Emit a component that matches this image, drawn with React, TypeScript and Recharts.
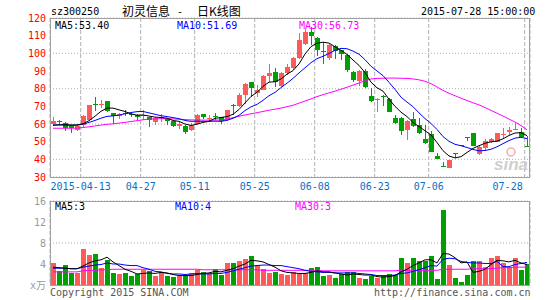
import React from 'react';
import { ComposedChart, Bar, Line, XAxis, YAxis, CartesianGrid } from 'recharts';

const MONO = '"DejaVu Sans Mono", "Liberation Mono", "Noto Sans CJK SC", monospace';
const CJK = '"Noto Sans CJK SC", sans-serif';
const RED = '#ff5a5a';
const GREEN = '#00a000';

const dates = [
  '2015-04-03', '2015-04-07', '2015-04-08', '2015-04-09', '2015-04-10', '2015-04-13', '2015-04-14', '2015-04-15', '2015-04-16', '2015-04-17',
  '2015-04-20', '2015-04-21', '2015-04-22', '2015-04-23', '2015-04-24', '2015-04-27', '2015-04-28', '2015-04-29', '2015-04-30', '2015-05-04',
  '2015-05-05', '2015-05-06', '2015-05-07', '2015-05-08', '2015-05-11', '2015-05-12', '2015-05-13', '2015-05-14', '2015-05-15', '2015-05-18',
  '2015-05-19', '2015-05-20', '2015-05-21', '2015-05-22', '2015-05-25', '2015-05-26', '2015-05-27', '2015-05-28', '2015-05-29', '2015-06-01',
  '2015-06-02', '2015-06-03', '2015-06-04', '2015-06-05', '2015-06-08', '2015-06-09', '2015-06-10', '2015-06-11', '2015-06-12', '2015-06-15',
  '2015-06-16', '2015-06-17', '2015-06-18', '2015-06-19', '2015-06-23', '2015-06-24', '2015-06-25', '2015-06-26', '2015-06-29', '2015-06-30',
  '2015-07-01', '2015-07-02', '2015-07-03', '2015-07-06', '2015-07-07', '2015-07-08', '2015-07-09', '2015-07-10', '2015-07-13', '2015-07-14',
  '2015-07-15', '2015-07-16', '2015-07-17', '2015-07-20', '2015-07-21', '2015-07-22', '2015-07-23', '2015-07-24', '2015-07-27', '2015-07-28',
];

const tickDates = ['2015-04-13', '2015-04-27', '2015-05-11', '2015-05-25', '2015-06-08', '2015-06-23', '2015-07-06', '2015-07-28'];

const open = [
  59.8, 61.6, 60.8, 58.6, 56.8, 59.5, 62.2, 71.4, 71.2, 73.0,
  66.2, 64.3, 66.2, 65.8, 65.2, 64.9, 63.9, 61.2, 63.3, 63.0,
  61.7, 59.1, 59.1, 56.8, 60.0, 65.5, 62.8, 64.3, 63.8, 62.3,
  70.6, 70.2, 76.4, 83.8, 77.4, 79.2, 87.2, 89.6, 81.5, 88.7,
  91.5, 97.5, 105.5, 112.0, 108.5, 101.3, 97.4, 104.4, 101.7, 99.3,
  89.6, 84.2, 89.8, 75.6, 73.9, 75.8, 74.3, 63.3, 63.6, 56.5,
  62.7, 59.5, 51.5, 54.2, 42.0, 36.4, 35.2, 43.5, 47.9, 52.6,
  54.7, 43.3, 46.2, 50.0, 50.0, 54.0, 55.5, 57.1, 55.7, 47.3,
];
const close = [
  61.9, 61.4, 58.0, 57.6, 58.8, 64.6, 70.6, 70.5, 71.6, 67.5,
  64.8, 65.6, 65.9, 64.9, 63.9, 65.3, 62.4, 63.2, 63.7, 61.8,
  58.9, 60.1, 55.7, 59.6, 65.1, 64.0, 63.2, 64.1, 61.9, 67.9,
  70.3, 76.6, 82.8, 80.6, 79.2, 87.2, 88.7, 83.6, 89.0, 92.3,
  97.5, 107.4, 112.0, 109.7, 101.7, 100.9, 104.5, 101.5, 99.7, 90.3,
  84.8, 89.8, 80.7, 72.8, 74.3, 75.4, 66.8, 60.5, 56.3, 61.8,
  59.1, 54.7, 49.1, 44.4, 40.3, 36.2, 39.6, 43.3, 47.9, 52.5,
  47.6, 47.2, 50.4, 51.7, 54.7, 54.2, 56.6, 57.4, 52.5, 47.25,
];
const high = [
  64.2, 62.3, 61.0, 59.0, 59.5, 65.2, 70.8, 75.3, 73.8, 73.2,
  66.5, 66.3, 68.0, 66.3, 65.6, 67.9, 64.0, 64.0, 65.6, 63.3,
  62.0, 61.1, 59.5, 60.6, 65.7, 65.8, 65.3, 66.2, 64.0, 68.1,
  71.1, 77.4, 83.4, 84.0, 82.1, 87.5, 94.0, 91.5, 89.3, 93.8,
  98.1, 111.3, 113.5, 115.0, 109.0, 106.5, 105.5, 104.8, 102.0, 99.6,
  90.0, 90.5, 91.1, 80.5, 74.5, 76.5, 74.6, 65.2, 64.0, 62.3,
  67.0, 63.3, 59.5, 56.0, 43.4, 38.6, 39.8, 43.6, 47.9, 52.6,
  54.8, 47.6, 51.5, 52.2, 55.0, 57.6, 58.5, 61.3, 57.6, 53.0,
];
const low = [
  59.3, 59.6, 56.0, 54.8, 56.0, 58.5, 61.8, 67.6, 69.0, 67.0,
  60.3, 62.9, 64.6, 64.3, 62.3, 62.5, 58.6, 59.2, 61.2, 59.3,
  57.9, 57.3, 54.5, 56.3, 59.4, 63.0, 61.5, 62.3, 59.8, 61.7,
  64.7, 69.3, 71.3, 75.3, 75.3, 79.0, 84.0, 81.0, 81.0, 87.5,
  90.5, 96.8, 104.5, 104.7, 98.5, 93.8, 96.3, 96.6, 96.4, 89.6,
  84.0, 81.3, 80.3, 72.3, 66.5, 70.1, 66.5, 60.3, 53.8, 51.0,
  58.5, 54.5, 48.8, 44.0, 40.0, 36.1, 35.0, 40.9, 47.9, 50.2,
  47.3, 42.5, 45.5, 49.6, 49.8, 51.9, 53.8, 56.6, 51.9, 47.25,
];

const ma5 = [
  59.3, 59.5, 59.6, 59.5, 59.5, 60.1, 61.9, 64.4, 67.2, 69.0,
  69.0, 68.0, 67.1, 65.7, 65.0, 65.1, 64.5, 63.9, 63.7, 63.3,
  62.0, 61.5, 60.0, 59.2, 59.9, 60.9, 61.5, 63.2, 63.7, 64.2,
  65.5, 68.2, 71.9, 75.6, 77.9, 81.3, 83.7, 83.9, 85.5, 88.2,
  90.2, 94.0, 99.6, 103.8, 105.7, 106.3, 105.8, 103.7, 101.7, 99.4,
  96.2, 93.2, 89.1, 83.7, 80.5, 78.6, 74.0, 70.0, 66.7, 64.2,
  60.9, 58.5, 56.2, 53.8, 49.5, 44.9, 41.9, 40.8, 41.5, 43.9,
  46.2, 47.7, 49.1, 49.9, 50.3, 51.6, 53.5, 54.9, 55.1, 53.4,
];
const ma10 = [
  59.4, 59.5, 59.4, 59.2, 59.3, 59.9, 60.9, 62.0, 63.3, 64.3,
  64.6, 65.0, 65.8, 66.5, 67.0, 67.1, 66.3, 65.5, 64.7, 64.2,
  63.6, 63.0, 62.0, 61.5, 61.6, 61.5, 61.5, 61.6, 61.5, 62.1,
  63.2, 64.9, 67.6, 69.7, 71.1, 73.4, 76.0, 77.9, 80.6, 83.1,
  85.8, 88.9, 91.8, 94.7, 97.0, 98.3, 99.9, 101.7, 102.8, 102.6,
  101.3, 99.5, 96.4, 92.7, 90.0, 87.4, 83.6, 79.6, 75.2, 72.4,
  69.8, 66.3, 63.1, 60.3, 56.9, 52.9, 50.2, 48.5, 47.7, 46.7,
  45.6, 44.8, 45.0, 45.7, 47.1, 48.9, 50.6, 52.0, 52.5, 51.69,
];
const ma30 = [
  57.6, 57.6, 57.6, 57.6, 57.7, 58.0, 58.4, 58.9, 59.4, 59.8,
  60.1, 60.5, 60.9, 61.4, 61.9, 62.4, 62.7, 62.9, 63.0, 63.0,
  62.9, 62.7, 62.5, 62.3, 62.3, 62.2, 62.2, 62.2, 62.3, 62.8,
  63.6, 64.4, 65.1, 65.8, 66.4, 67.1, 67.8, 68.4, 69.0, 69.8,
  70.6, 71.8, 73.0, 74.2, 75.5, 76.6, 77.6, 78.6, 79.7, 80.8,
  82.0, 83.2, 84.5, 85.5, 85.8, 85.9, 86.0, 86.0, 85.9, 85.8,
  85.5, 85.0, 84.2, 82.8, 81.0, 79.0, 77.4, 76.0, 74.6, 73.3,
  72.0, 70.8, 69.3, 67.7, 66.1, 64.5, 62.8, 61.1, 59.1, 56.73,
];

// volume, 万手
const vol = [
  4.2, 2.7, 3.9, 2.3, 2.3, 6.9, 5.7, 5.9, 3.3, 4.8,
  2.3, 2.1, 2.3, 1.7, 2.1, 2.9, 2.7, 1.7, 2.5, 1.7,
  1.5, 1.7, 1.7, 2.3, 2.9, 2.5, 2.3, 3.0, 2.0, 4.2,
  4.2, 4.6, 5.0, 5.6, 3.8, 3.0, 2.3, 2.5, 2.1, 1.9,
  2.5, 2.1, 2.3, 3.2, 3.4, 1.7, 1.9, 1.4, 2.1, 2.5,
  2.5, 1.4, 1.2, 1.7, 1.4, 1.7, 2.1, 1.9, 5.2, 4.2,
  5.2, 4.6, 4.6, 5.6, 1.2, 14.2, 3.8, 1.4, 0.5, 1.9,
  4.6, 4.6, 3.4, 5.2, 5.6, 4.2, 3.4, 5.1, 2.9, 4.0,
];
const vma5 = [
  3.4, 3.3, 3.2, 3.1, 3.1, 3.6, 4.2, 4.6, 4.8, 5.3,
  4.4, 3.7, 3.0, 2.6, 2.1, 2.2, 2.3, 2.2, 2.4, 2.3,
  2.0, 1.8, 1.8, 1.8, 2.0, 2.2, 2.3, 2.6, 2.5, 2.8,
  3.1, 3.6, 4.0, 4.7, 4.6, 4.4, 3.9, 3.4, 2.7, 2.4,
  2.3, 2.2, 2.2, 2.4, 2.7, 2.5, 2.5, 2.3, 2.1, 1.9,
  2.1, 2.0, 1.9, 1.9, 1.6, 1.5, 1.6, 1.8, 2.5, 3.0,
  3.7, 4.2, 4.8, 4.8, 4.2, 6.0, 5.9, 5.2, 4.2, 4.4,
  2.4, 2.6, 3.0, 3.9, 4.7, 4.6, 4.4, 4.7, 4.2, 3.9,
];
const vma10 = [
  3.2, 3.2, 3.2, 3.1, 3.1, 3.4, 3.6, 3.8, 3.9, 4.2,
  4.0, 4.0, 3.8, 3.7, 3.7, 3.3, 3.0, 2.6, 2.5, 2.2,
  2.1, 2.1, 2.0, 2.1, 2.2, 2.1, 2.1, 2.2, 2.2, 2.4,
  2.7, 3.0, 3.3, 3.6, 3.7, 3.8, 3.8, 3.7, 3.7, 3.5,
  3.3, 3.1, 2.8, 2.6, 2.5, 2.4, 2.4, 2.3, 2.3, 2.3,
  2.3, 2.2, 2.1, 2.0, 1.8, 1.8, 1.8, 1.9, 2.2, 2.3,
  2.6, 2.9, 3.3, 3.7, 3.6, 4.9, 5.1, 5.0, 4.5, 4.3,
  4.2, 4.2, 4.1, 4.1, 4.5, 3.5, 3.5, 3.9, 4.1, 4.3,
];
const vma30 = [
  2.5, 2.5, 2.5, 2.5, 2.5, 2.7, 2.8, 2.8, 2.9, 2.9,
  3.0, 3.0, 3.0, 3.0, 3.0, 3.0, 3.0, 3.0, 3.0, 3.0,
  3.0, 3.0, 3.0, 3.0, 3.0, 2.9, 2.9, 2.9, 2.9, 2.9,
  2.9, 2.9, 2.9, 2.9, 2.9, 2.8, 2.8, 2.8, 2.8, 2.8,
  2.8, 2.8, 2.8, 2.8, 2.8, 2.7, 2.7, 2.7, 2.7, 2.7,
  2.7, 2.7, 2.7, 2.7, 2.7, 2.7, 2.7, 2.7, 2.8, 2.8,
  2.8, 2.8, 2.8, 2.8, 2.8, 3.0, 3.0, 3.0, 3.0, 3.0,
  3.1, 3.1, 3.1, 3.1, 3.2, 3.3, 3.3, 3.4, 3.4, 3.4,
];

const priceTicks = [30, 40, 50, 60, 70, 80, 90, 100, 110, 120];
const volTicks = [0, 4, 8, 12, 16];

const kData = dates.map((date, i) => ({
  date, open: open[i], close: close[i], high: high[i], low: low[i],
  ma5: ma5[i], ma10: ma10[i], ma30: ma30[i],
}));
const vData = dates.map((date, i) => ({
  date, vol: vol[i], up: close[i] > open[i],
  vma5: vma5[i], vma10: vma10[i], vma30: vma30[i],
}));

// candle: wick + body drawn from the high/low bar the library lays out
const Candle = (p: any) => {
  const { x, y, width, height, payload } = p;
  const { open: o, close: c, high: h, low: l } = payload;
  const color = c > o ? RED : GREEN;
  const top0 = Math.min(y, y + height);
  const hgt = Math.abs(height);
  const span = h - l;
  const at = (v: number) => (span > 0 ? top0 + ((h - v) / span) * hgt : top0);
  const left = Math.floor(x);
  const bTop = Math.round(at(Math.max(o, c)));
  const bBot = Math.round(at(Math.min(o, c)));
  return (
    <g shapeRendering="crispEdges">
      <rect x={left + Math.floor(width / 2)} y={Math.round(top0)} width={1} height={Math.max(1, Math.round(hgt))} fill={color} />
      <rect x={left} y={bTop} width={width} height={Math.max(1, bBot - bTop)} fill={color} />
    </g>
  );
};

const VolBar = (p: any) => {
  const { x, y, width, height, payload } = p;
  return (
    <rect
      x={Math.floor(x)} y={Math.round(y)} width={width} height={Math.max(0, Math.round(height))}
      fill={payload.up ? RED : GREEN} shapeRendering="crispEdges"
    />
  );
};

const DateTick = (p: any) => {
  const { x, y, payload } = p;
  const v: string = payload.value;
  const last = v === tickDates[tickDates.length - 1];
  const label = v === tickDates[0] ? v : v.slice(5);
  return (
    <text x={last ? x - 2 : x} y={y + 13} textAnchor={last ? 'end' : 'middle'} fill="#0a6fc8" fontSize={10} fontFamily={MONO}>
      {label}
    </text>
  );
};

const frame = { position: 'absolute' as const, border: '1px solid #a0a0a0', boxSizing: 'border-box' as const, pointerEvents: 'none' as const };

export default function App() {
  return (
    <div style={{ position: 'relative', width: 545, height: 300, background: '#fff', overflow: 'hidden' }}>
      <style>{'body{margin:0}'}</style>

      <div style={{ position: 'absolute', left: 0, top: 0 }}>
        <ComposedChart width={545} height={197} data={kData} margin={{ top: 18, right: 15, bottom: 0, left: 0 }}>
          <CartesianGrid vertical={false} stroke="#b0b0b0" strokeDasharray="1 2" />
          <CartesianGrid horizontal={false} stroke="#b0b0b0" strokeDasharray="4 2" />
          <XAxis
            dataKey="date" ticks={tickDates} interval={0} height={20} padding={{ left: -2.3, right: 2.3 }}
            tick={<DateTick />} tickLine={false} axisLine={false} tickSize={0} tickMargin={0}
          />
          <XAxis xAxisId="k" dataKey="date" hide />
          <YAxis
            domain={[30, 120]} ticks={priceTicks} width={50} tickLine={false} axisLine={false} tickSize={0} tickMargin={4}
            tick={{ fill: '#ff0000', fontSize: 10, fontFamily: MONO }}
          />
          <Bar xAxisId="k" dataKey={(d: any) => [d.low, d.high]} barSize={5} shape={<Candle />} isAnimationActive={false} />
          <Line xAxisId="k" dataKey="ma30" stroke="#ff00ff" strokeWidth={1} dot={false} isAnimationActive={false} />
          <Line xAxisId="k" dataKey="ma10" stroke="#0000ff" strokeWidth={1} dot={false} isAnimationActive={false} />
          <Line xAxisId="k" dataKey="ma5" stroke="#000000" strokeWidth={1} dot={false} isAnimationActive={false} />
        </ComposedChart>
      </div>

      <div style={{ position: 'absolute', left: 0, top: 190 }}>
        <ComposedChart width={545} height={110} data={vData} margin={{ top: 11, right: 15, bottom: 15, left: 0 }}>
          <CartesianGrid vertical={false} stroke="#b0b0b0" strokeDasharray="1 2" />
          <CartesianGrid horizontal={false} stroke="#b0b0b0" strokeDasharray="4 2" />
          <XAxis
            dataKey="date" ticks={tickDates} interval={0} height={0} padding={{ left: -2.3, right: 2.3 }}
            tick={false} tickLine={false} axisLine={false}
          />
          <XAxis xAxisId="k" dataKey="date" hide />
          <YAxis
            domain={[0, 16]} ticks={volTicks} width={50} tickLine={false} axisLine={false} tickSize={0} tickMargin={4}
            tickFormatter={(v: number) => (v === 0 ? 'x万' : String(v))}
            tick={{ fill: '#999999', fontSize: 10, fontFamily: MONO }}
          />
          <Bar xAxisId="k" dataKey="vol" barSize={5} shape={<VolBar />} isAnimationActive={false} />
          <Line xAxisId="k" dataKey="vma30" stroke="#ff00ff" strokeWidth={1} dot={false} isAnimationActive={false} />
          <Line xAxisId="k" dataKey="vma10" stroke="#0000ff" strokeWidth={1} dot={false} isAnimationActive={false} />
          <Line xAxisId="k" dataKey="vma5" stroke="#000000" strokeWidth={1} dot={false} isAnimationActive={false} />
        </ComposedChart>
      </div>

      <div style={{ ...frame, left: 50, top: 18, width: 480, height: 160 }} />
      <div style={{ ...frame, left: 50, top: 201, width: 480, height: 85 }} />

      <svg width={545} height={300} style={{ position: 'absolute', left: 0, top: 0, pointerEvents: 'none' }}>
        <text x={51} y={15} fontSize={10} fontFamily={MONO} fill="#000">sz300250</text>
        <text x={122} y={16} fontSize={12} fontFamily={CJK} fill="#000">初灵信息</text>
        <text x={177} y={15} fontSize={10} fontFamily={MONO} fill="#000">-</text>
        <text x={197} y={16} fontSize={12} fontFamily={CJK} fill="#000">日K线图</text>
        <text x={421} y={15} fontSize={10} fontFamily={MONO} fill="#000">2015-07-28 15:00:00</text>

        <text x={55} y={29} fontSize={10} fontFamily={MONO} fill="#000">MA5:53.40</text>
        <text x={177} y={29} fontSize={10} fontFamily={MONO} fill="#0000ff">MA10:51.69</text>
        <text x={299} y={29} fontSize={10} fontFamily={MONO} fill="#ff00ff">MA30:56.73</text>

        <text x={55} y={210} fontSize={10} fontFamily={MONO} fill="#000">MA5:3</text>
        <text x={175} y={210} fontSize={10} fontFamily={MONO} fill="#0000ff">MA10:4</text>
        <text x={295} y={210} fontSize={10} fontFamily={MONO} fill="#ff00ff">MA30:3</text>

        <text x={494} y={170} fontSize={17} fontWeight="bold" fontStyle="italic" fontFamily='"Liberation Sans", sans-serif' fill="#cfcfcf">sina</text>
        <circle cx={511} cy={152} r={4} fill="none" stroke="#f3b0b0" strokeWidth={1.5} />

        <text x={50} y={296} fontSize={10} fontFamily={MONO} fill="#555">Copyright 2015 SINA.COM</text>
        <text x={374} y={296} fontSize={10} fontFamily={MONO} fill="#555">http://finance.sina.com.cn</text>
      </svg>
    </div>
  );
}
